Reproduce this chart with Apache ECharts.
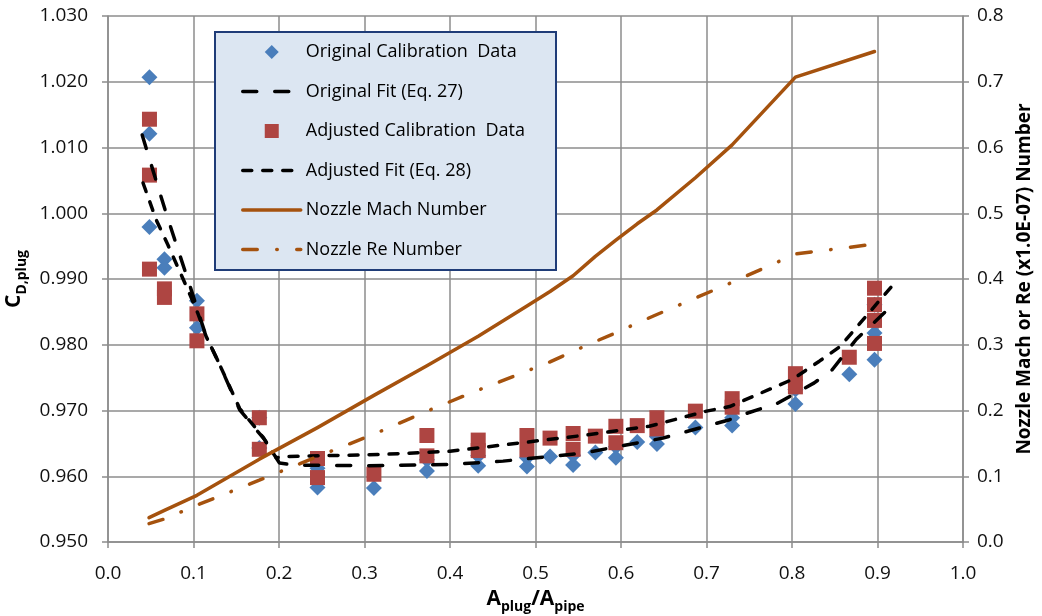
<!DOCTYPE html>
<html>
<head>
<meta charset="UTF-8">
<title>Plug calibration</title>
<script src="https://cdn.jsdelivr.net/npm/echarts@6/dist/echarts.min.js"></script>
<style>
    html,body{margin:0;padding:0;background:#fff;}
    #chart{width:1042px;height:616px;}
</style>
</head>
<body>
<div id="chart"></div>
<script>
    // calibration points [A_plug/A_pipe, Cd]
    const origData = [
        [0.0485,1.0207],[0.0485,1.0121],[0.0485,0.9979],
        [0.066,0.9930],[0.066,0.9917],
        [0.104,0.9867],[0.104,0.9826],
        [0.177,0.9689],[0.177,0.9643],
        [0.245,0.9612],[0.245,0.9583],
        [0.311,0.9582],
        [0.373,0.9625],[0.373,0.9608],
        [0.433,0.9631],[0.433,0.9616],
        [0.490,0.9628],[0.490,0.9615],
        [0.517,0.9630],
        [0.544,0.9632],[0.544,0.9617],
        [0.570,0.9636],
        [0.594,0.9645],[0.594,0.9628],
        [0.619,0.9652],
        [0.642,0.9660],[0.642,0.9649],
        [0.687,0.9674],
        [0.730,0.9689],[0.730,0.9677],
        [0.804,0.9732],[0.804,0.9710],
        [0.867,0.9755],
        [0.8965,0.9861],[0.8965,0.9818],[0.8965,0.9777]
    ];
    const adjData = [
        [0.0485,1.0143],[0.0485,1.0058],[0.0485,0.9915],
        [0.066,0.9885],[0.066,0.9872],
        [0.104,0.9847],[0.104,0.9806],
        [0.177,0.9689],[0.177,0.9641],
        [0.245,0.9627],[0.245,0.9598],
        [0.311,0.9603],
        [0.373,0.9662],[0.373,0.9631],
        [0.433,0.9655],[0.433,0.9639],
        [0.490,0.9662],[0.490,0.9640],
        [0.517,0.9658],
        [0.544,0.9665],[0.544,0.9641],
        [0.570,0.9661],
        [0.594,0.9676],[0.594,0.9651],
        [0.619,0.9677],
        [0.642,0.9689],[0.642,0.9672],
        [0.687,0.9699],
        [0.730,0.9718],[0.730,0.9705],
        [0.804,0.9756],[0.804,0.9736],
        [0.867,0.9781],
        [0.8965,0.9886],[0.8965,0.9861],[0.8965,0.9837],[0.8965,0.9802]
    ];
    // fit curves
    const origFit = [
        [0.040,1.0119],[0.0505,1.0074],[0.068,1.0000],[0.080,0.9952],[0.095,0.9893],
        [0.105,0.9852],[0.115,0.9812],[0.128,0.9777],[0.154,0.9701],[0.183,0.9656],
        [0.2006,0.9620],[0.22,0.9617],[0.30,0.9616],[0.40,0.9618],[0.462,0.9623],
        [0.555,0.9635],[0.649,0.9658],[0.727,0.9686],[0.75,0.9697],[0.783,0.9711],
        [0.826,0.9742],[0.847,0.9762],[0.875,0.9808],[0.914,0.9856]
    ];
    const adjFit = [
        [0.041,1.0046],[0.0564,0.9990],[0.070,0.9952],[0.0933,0.9884],[0.105,0.9848],
        [0.115,0.9812],[0.128,0.9777],[0.154,0.9703],[0.181,0.9660],[0.1967,0.9628],
        [0.205,0.9630],[0.3175,0.9633],[0.40,0.9638],[0.555,0.9662],[0.633,0.9676],
        [0.70,0.9699],[0.727,0.9706],[0.80,0.9747],[0.832,0.9775],[0.856,0.9797],[0.92,0.9894]
    ];
    // nozzle numbers (secondary axis)
    const nozzleX = [0.048,0.066,0.104,0.177,0.245,0.311,0.373,0.433,0.490,0.517,0.544,0.570,0.594,0.619,0.642,0.687,0.730,0.804,0.8965];
    const machNum = [0.037,0.048,0.071,0.126,0.174,0.223,0.268,0.313,0.359,0.381,0.405,0.4345,0.459,0.484,0.505,0.554,0.604,0.707,0.746];
    const reNum   = [0.028,0.035,0.056,0.094,0.130,0.164,0.199,0.231,0.260,0.274,0.290,0.305,0.318,0.333,0.346,0.371,0.395,0.438,0.453];

    const FONT = 'Open Sans';
    const gridColor = '#8C8C8C';
    const brown = '#A5520E';
    // legend icons sized to the full 58x14 legend slot so they don't stretch
    const diamondIcon = 'path://M0,0M58,14M22,7L29,0L36,7L29,14Z';
    const squareIcon = 'path://M0,0M58,14M22,0L36,0L36,14L22,14Z';
    const hideDot = {opacity: 0};

    var myChart = echarts.init(document.getElementById('chart'));
    var option = {
        animation: false,
        textStyle: {fontFamily: FONT},
        grid: {left: 108, right: 79, top: 16, bottom: 74, containLabel: false, outerBoundsMode: 'none'},
        graphic: [{
            type: 'rect', z: 3,
            shape: {x: 215, y: 32, width: 341, height: 238},
            style: {fill: '#DCE6F2', stroke: '#1F3C78', lineWidth: 2}
        }],
        legend: {
            orient: 'vertical', left: 241, top: 42, padding: 0,
            itemWidth: 58, itemHeight: 14, itemGap: 19.5,
            lineStyle: {width: 3.5},
            textStyle: {fontFamily: FONT, fontSize: 18, color: '#000', lineHeight: 20},
            data: [
                {name: 'Original Calibration  Data', icon: diamondIcon},
                {name: 'Original Fit (Eq. 27)', itemStyle: hideDot},
                {name: 'Adjusted Calibration  Data', icon: squareIcon},
                {name: 'Adjusted Fit (Eq. 28)', itemStyle: hideDot},
                {name: 'Nozzle Mach Number', itemStyle: hideDot},
                {name: 'Nozzle Re Number', itemStyle: hideDot}
            ]
        },
        xAxis: {
            type: 'value', min: 0, max: 1, interval: 0.1,
            name: '{a|A}{s|plug}{a|/A}{s|pipe}', nameLocation: 'middle', nameGap: 42,
            nameTextStyle: {rich: {
                a: {fontFamily: FONT, fontSize: 21, fontWeight: 'bold', color: '#000', lineHeight: 30, verticalAlign: 'middle'},
                s: {fontFamily: FONT, fontSize: 14, fontWeight: 'bold', color: '#000', lineHeight: 30, verticalAlign: 'bottom'}
            }},
            axisLine: {lineStyle: {color: gridColor, width: 1.5}},
            axisTick: {show: true, length: 6, lineStyle: {color: gridColor, width: 1.5}},
            axisLabel: {fontFamily: FONT, fontSize: 19, color: '#111', margin: 22, formatter: v => v.toFixed(1)},
            splitLine: {show: true, lineStyle: {color: gridColor, width: 1.5}}
        },
        yAxis: [{
            type: 'value', min: 0.95, max: 1.03, interval: 0.01,
            name: '{a|C}{s|D,plug}', nameLocation: 'middle', nameRotate: 90, nameGap: 70,
            nameTextStyle: {rich: {
                a: {fontFamily: FONT, fontSize: 21, fontWeight: 'bold', color: '#000', lineHeight: 30, verticalAlign: 'middle'},
                s: {fontFamily: FONT, fontSize: 14, fontWeight: 'bold', color: '#000', lineHeight: 30, verticalAlign: 'bottom'}
            }},
            axisLine: {show: true, lineStyle: {color: gridColor, width: 1.5}},
            axisTick: {show: true, length: 6, lineStyle: {color: gridColor, width: 1.5}},
            axisLabel: {fontFamily: FONT, fontSize: 19, color: '#111', margin: 20, formatter: v => v.toFixed(3)},
            splitLine: {show: true, lineStyle: {color: gridColor, width: 1.5}}
        }, {
            type: 'value', min: 0, max: 0.8, interval: 0.1, position: 'right',
            name: 'Nozzle Mach or Re (x1.0E-07) Number', nameLocation: 'middle', nameRotate: 90, nameGap: 52,
            nameTextStyle: {fontFamily: FONT, fontSize: 19, fontWeight: 'bold', color: '#000'},
            axisLine: {show: true, lineStyle: {color: gridColor, width: 1.5}},
            axisTick: {show: true, length: 6, lineStyle: {color: gridColor, width: 1.5}},
            axisLabel: {fontFamily: FONT, fontSize: 19, color: '#111', margin: 14, formatter: v => v.toFixed(1)},
            splitLine: {show: false}
        }],
        series: [{
            name: 'Original Calibration  Data', type: 'scatter', data: origData,
            symbol: 'diamond', symbolSize: 16,
            itemStyle: {color: '#4A7EBB', opacity: 1}
        }, {
            name: 'Original Fit (Eq. 27)', type: 'line', data: origFit, symbol: 'none',
            lineStyle: {color: '#000', width: 3.5, type: [14, 18], cap: 'round'},
            itemStyle: {color: '#000'}
        }, {
            name: 'Adjusted Calibration  Data', type: 'scatter', data: adjData,
            symbol: 'rect', symbolSize: 15,
            itemStyle: {color: '#AE4542', opacity: 1}
        }, {
            name: 'Adjusted Fit (Eq. 28)', type: 'line', data: adjFit, symbol: 'none',
            lineStyle: {color: '#000', width: 3.5, type: [9, 11], cap: 'round'},
            itemStyle: {color: '#000'}
        }, {
            name: 'Nozzle Mach Number', type: 'line', yAxisIndex: 1, symbol: 'none',
            data: nozzleX.map((x, i) => [x, machNum[i]]),
            lineStyle: {color: brown, width: 3.5, cap: 'round', join: 'round'},
            itemStyle: {color: brown}
        }, {
            name: 'Nozzle Re Number', type: 'line', yAxisIndex: 1, symbol: 'none',
            data: nozzleX.map((x, i) => [x, reNum[i]]),
            lineStyle: {color: brown, width: 3.5, type: [14.5, 19.5, 0.5, 19.5], cap: 'round'},
            itemStyle: {color: brown}
        }]
    };
    myChart.setOption(option);
</script>
</body>
</html>
